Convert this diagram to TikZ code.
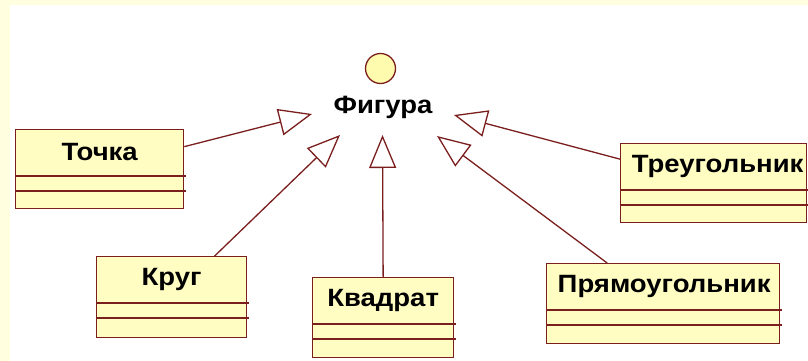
\documentclass[tikz,border=0pt]{standalone}
\usepackage{fontspec}
\setmainfont[FakeStretch=1.1]{Liberation Sans}
\usetikzlibrary{arrows.meta}
\definecolor{edge}{HTML}{7A1E1E}
\definecolor{boxfill}{HTML}{FFFDC2}
\definecolor{band}{HTML}{FFFFE0}
\definecolor{dotfill}{HTML}{FFFBAE}
\tikzset{
  classbox/.style={draw=edge, line width=1.3pt, fill=boxfill, anchor=north west, inner sep=0pt, minimum height=79pt},
  classname/.style={font=\bfseries\fontsize{25}{28}\selectfont, inner sep=0pt},
  sepline/.style={draw=edge, line width=1.3pt},
  gen/.style={draw=edge, line width=1.3pt, -{Triangle[open, length=33pt, width=27pt, fill=white]}},
}
\newcommand{\sepl}[1]{%
  \draw[sepline] ([yshift=-47pt]#1.north west) -- ([xshift=2pt,yshift=-47pt]#1.north east);
  \draw[sepline] ([yshift=-62pt]#1.north west) -- ([xshift=2pt,yshift=-62pt]#1.north east);
}
\begin{document}
\begin{tikzpicture}[x=1pt,y=-1pt]
\useasboundingbox (0,0) rectangle (808,361);
\fill[band] (0,0) rectangle (808,5);
\fill[band] (0,0) rectangle (10,361);

% interface
\node[draw=edge, line width=1.3pt, fill=dotfill, circle, minimum size=30pt, inner sep=0pt] (dot) at (380.5,68.5) {};
\node[classname] (fig) at (383,107) {Фигура};

% classes
\node[classbox, minimum width=168pt] (tochka) at (15,129) {};
\node[classname] at ([yshift=-23pt]tochka.north) {Точка};
\sepl{tochka}

\node[classbox, minimum width=186pt] (treug) at (620,143) {};
\node[classname] at ([xshift=4pt,yshift=-23pt]treug.north) {Треугольник};
\sepl{treug}

\node[classbox, minimum width=150pt, minimum height=81pt] (krug) at (96,256) {};
\node[classname] at ([yshift=-23pt]krug.north) {Круг};
\sepl{krug}

\node[classbox, minimum width=141pt, minimum height=80pt] (kvadrat) at (312,277) {};
\node[classname] at ([yshift=-23pt]kvadrat.north) {Квадрат};
\sepl{kvadrat}

\node[classbox, minimum width=233pt, minimum height=80pt] (pryam) at (546,263) {};
\node[classname] at ([xshift=1pt,yshift=-23pt]pryam.north) {Прямоугольник};
\sepl{pryam}

% arrow tips near the interface
\coordinate (t1) at (312,114);
\coordinate (t2) at (340,135);
\coordinate (t3) at (382.5,135);
\coordinate (t4) at (437,136);
\coordinate (t5) at (454,115);

\draw[gen] ([yshift=22.5pt]tochka.east) -- (t1);
\draw[gen] ([xshift=43pt]krug.north) -- (t2);
\draw[gen] (kvadrat.north) -- (t3);
\draw[gen] ([xshift=-56pt]pryam.north) -- (t4);
\draw[gen] ([yshift=24pt]treug.west) -- (t5);
\end{tikzpicture}
\end{document}
